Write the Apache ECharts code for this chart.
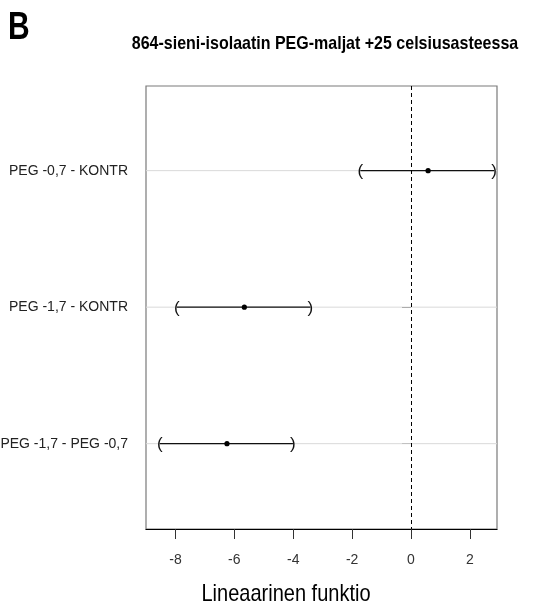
<!DOCTYPE html>
<html>
<head>
<meta charset="utf-8">
<script src="https://cdn.jsdelivr.net/npm/echarts@6/dist/echarts.min.js"></script>
<style>html,body{margin:0;padding:0;background:#fff;}#c{width:535px;height:606px;}</style>
</head>
<body>
<div id="c"></div>
<script>
var categories = ['PEG -0,7 - KONTR', 'PEG -1,7 - KONTR', 'PEG -1,7 - PEG -0,7'];
var lower = [-1.72, -7.95, -8.53];
var estimate = [0.58, -5.66, -6.25];
var upper = [2.82, -3.42, -4.01];
var xTicks = [-8, -6, -4, -2, 0, 2];
var rowPos = [1, 2, 3];

var FONT = '"Liberation Sans", Arial, sans-serif';
var chart = echarts.init(document.getElementById('c'), null, {renderer: 'canvas'});

var data = categories.map(function (c, i) { return [lower[i], estimate[i], upper[i], rowPos[i]]; });

chart.setOption({
  animation: false,
  backgroundColor: '#fff',
  grid: {left: 146, right: 38, top: 86, bottom: 77, containLabel: false, outerBoundsMode: 'none',
    show: true, borderColor: '#7a7a7a', borderWidth: 1.2, backgroundColor: 'transparent'},
  xAxis: {
    type: 'value', min: -9, max: 2.92,
    axisLine: {show: true, lineStyle: {color: '#000', width: 1.2}},
    axisTick: {show: true, length: 10, lineStyle: {color: '#333'}, customValues: xTicks},
    axisLabel: {color: '#333', fontSize: 14, fontFamily: FONT, margin: 24, customValues: xTicks,
      formatter: function (v) { return String(v); }},
    splitLine: {show: false}
  },
  yAxis: {
    type: 'value', inverse: true, min: 0.38, max: 3.625,
    axisLine: {show: false},
    axisTick: {show: true, length: 9, lineStyle: {color: '#555'}, customValues: rowPos},
    axisLabel: {color: '#222', fontSize: 14, fontFamily: FONT, margin: 18, customValues: rowPos,
      formatter: function (v) { var i = rowPos.indexOf(Math.round(v)); return i >= 0 ? categories[i] : ''; }},
    splitLine: {show: false}
  },
  graphic: [
    {type: 'text', x: 8, y: 28, scaleY: 1.3,
      style: {text: 'B', font: 'bold 30px ' + FONT, fill: '#000', verticalAlign: 'middle'}},
    {type: 'text', x: 325, y: 44, scaleY: 1.2,
      style: {text: '864-sieni-isolaatin PEG-maljat +25 celsiusasteessa', font: 'bold 16px ' + FONT, fill: '#000', align: 'center', verticalAlign: 'middle'}},
    {type: 'text', x: 286, y: 594, scaleY: 1.2,
      style: {text: 'Lineaarinen funktio', font: '20px ' + FONT, fill: '#000', align: 'center', verticalAlign: 'middle'}}
  ],
  series: [{
    type: 'custom',
    z: 1,
    data: rowPos,
    encode: {y: 0},
    renderItem: function (params, api) {
      var cs = params.coordSys;
      var p = api.coord([0, api.value(0)]);
      return {type: 'line', shape: {x1: cs.x, y1: p[1], x2: cs.x + cs.width, y2: p[1]}, style: {stroke: '#d9d9d9', lineWidth: 1}};
    }
  }, {
    type: 'custom',
    z: 3,
    data: data,
    encode: {x: [0, 1, 2], y: 3},
    renderItem: function (params, api) {
      var y = api.value(3);
      var pl = api.coord([api.value(0), y]);
      var pe = api.coord([api.value(1), y]);
      var pu = api.coord([api.value(2), y]);
      return {
        type: 'group',
        children: [
          {type: 'line', shape: {x1: pl[0], y1: pl[1], x2: pu[0], y2: pu[1]}, style: {stroke: '#111', lineWidth: 1.2}},
          {type: 'circle', shape: {cx: pe[0], cy: pe[1], r: 2.6}, style: {fill: '#000'}},
          {type: 'text', x: pl[0], y: pl[1] + 1, style: {text: '(', font: '17px ' + FONT, fill: '#111', align: 'center', verticalAlign: 'middle'}},
          {type: 'text', x: pu[0], y: pu[1] + 1, style: {text: ')', font: '17px ' + FONT, fill: '#111', align: 'center', verticalAlign: 'middle'}}
        ]
      };
    },
    markLine: {
      silent: true, symbol: 'none', label: {show: false}, z: 5,
      lineStyle: {color: '#000', type: [4, 3], width: 1},
      data: [{xAxis: 0}]
    }
  }]
});
</script>
</body>
</html>
